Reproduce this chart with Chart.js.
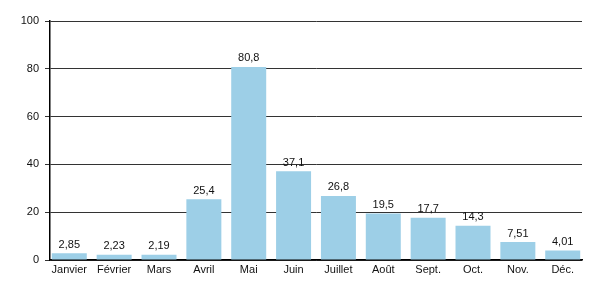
<!DOCTYPE html>
<html><head><meta charset="utf-8">
<script src="https://cdn.jsdelivr.net/npm/chart.js@4"></script>
<style>html,body{margin:0;padding:0;background:#fff}#wrap{width:600px;height:300px}</style>
</head><body><div id="wrap"><canvas id="c" width="600" height="300"></canvas></div>
<script>
const categories = ["Janvier","Février","Mars","Avril","Mai","Juin","Juillet","Août","Sept.","Oct.","Nov.","Déc."];
const values = [2.85,2.23,2.19,25.4,80.8,37.1,26.8,19.5,17.7,14.3,7.51,4.01];
const valueLabels = ["2,85","2,23","2,19","25,4","80,8","37,1","26,8","19,5","17,7","14,3","7,51","4,01"];
const yTicks = [0,20,40,60,80,100];

const FONT = "'Liberation Sans', Arial, sans-serif";
const labelPlugin = {
  id: 'vlabels',
  afterDatasetsDraw(chart) {
    const ctx = chart.ctx;
    const meta = chart.getDatasetMeta(0);
    ctx.save();
    ctx.font = "11px " + FONT;
    ctx.fillStyle = "#111";
    ctx.textAlign = "center";
    ctx.textBaseline = "bottom";
    meta.data.forEach((bar, i) => {
      ctx.fillText(valueLabels[i], bar.x, bar.y - 3);
    });
    ctx.restore();
  }
};

new Chart(document.getElementById('c'), {
  type: 'bar',
  data: {
    datasets: [{
      data: values.map((v, i) => ({ x: i, y: v })),
      backgroundColor: '#9dcfe7',
      borderWidth: 0,
      categoryPercentage: 1,
      barPercentage: 0.78
    }]
  },
  options: {
    responsive: false,
    animation: false,
    layout: { padding: { top: 21, right: 18, left: 0, bottom: 0 } },
    plugins: { legend: { display: false }, tooltip: { enabled: false } },
    scales: {
      x: {
        type: 'linear',
        offset: false,
        min: -0.43, max: 11.43,
        afterBuildTicks(s) { s.ticks = categories.map((c, i) => ({ value: i })); },
        grid: { display: false, drawTicks: false, offset: false },
        border: { display: true, color: '#000', width: 1.5 },
        ticks: { color: '#111', font: { family: FONT, size: 11 }, padding: 3, maxRotation: 0, autoSkip: false,
                 callback: (v) => categories[v] },
        afterFit(s) { s.height = 40; }
      },
      y: {
        min: 0, max: 100,
        afterBuildTicks(s) { s.ticks = yTicks.map(v => ({ value: v })); },
        grid: { color: '#333', lineWidth: 1, tickLength: 5, drawOnChartArea: true },
        border: { display: true, color: '#000', width: 1.5 },
        ticks: { color: '#111', font: { family: FONT, size: 11 }, padding: 6 },
        afterFit(s) { s.width = 50; }
      }
    }
  },
  plugins: [labelPlugin]
});
</script>
</body></html>
